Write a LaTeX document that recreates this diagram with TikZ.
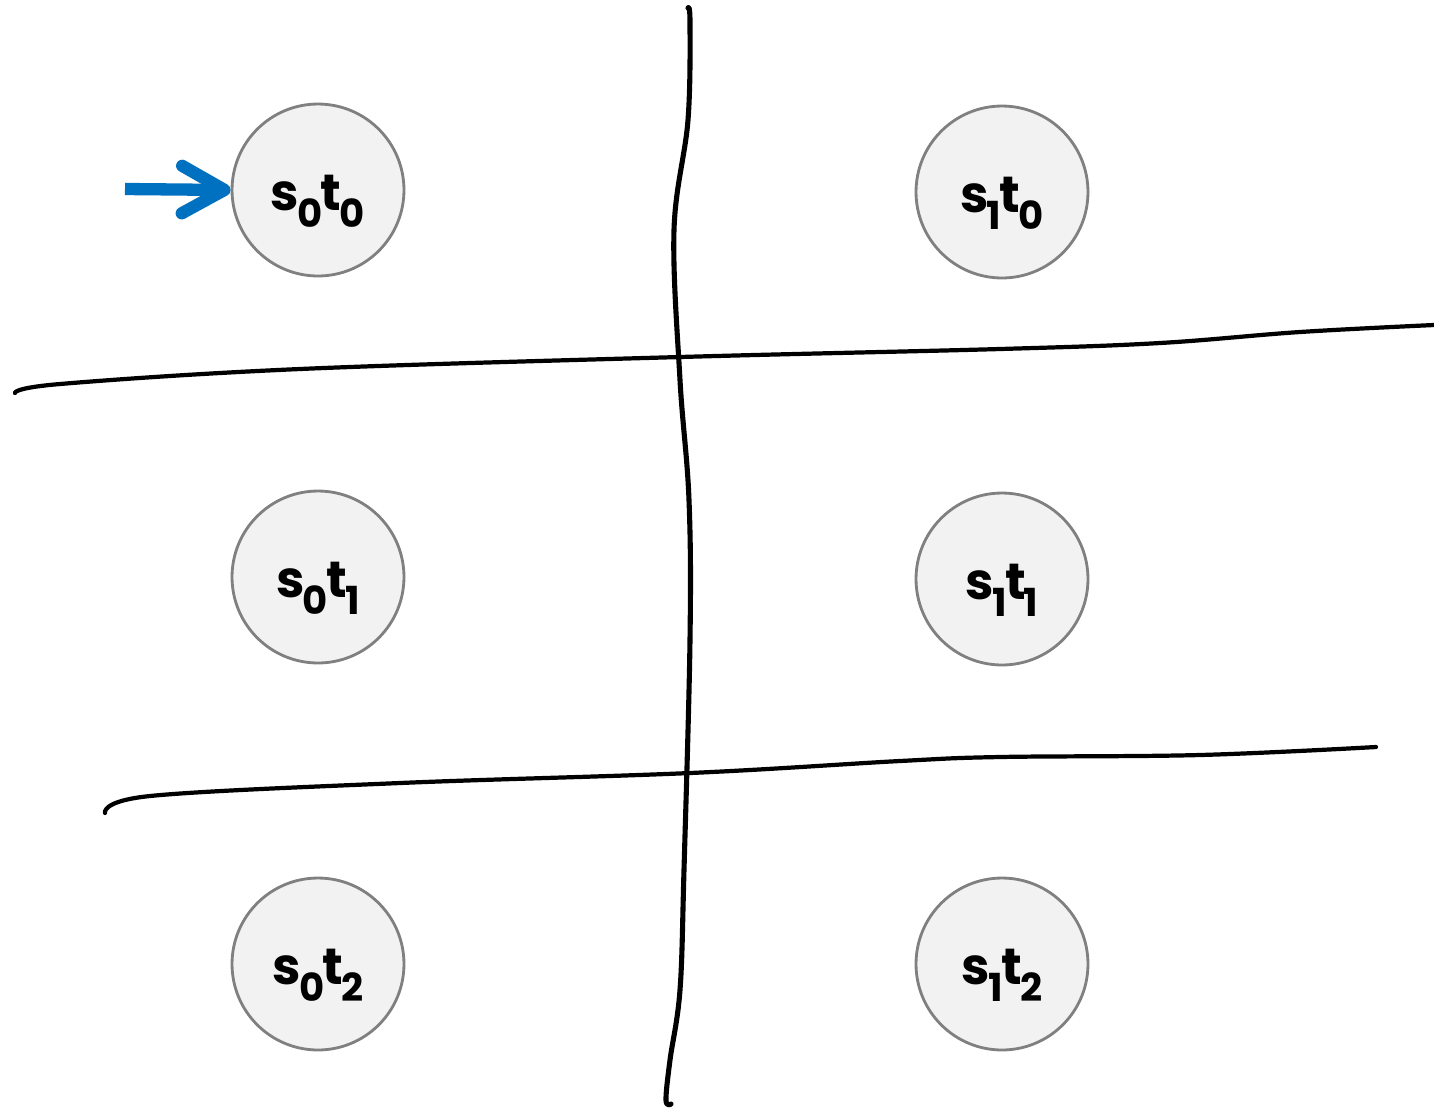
\documentclass[tikz,border=0pt]{standalone}
\usepackage{xcolor}
\usepackage{fontspec}
\usepackage{tikz}
\usetikzlibrary{arrows.meta}
\setmainfont{Poppins}
\definecolor{initblue}{RGB}{0,112,192}
\definecolor{stategray}{RGB}{128,128,128}
\definecolor{statefill}{RGB}{242,242,242}
\newcommand{\subdigit}[1]{\lower0.35cm\hbox{\fontsize{22}{22}\selectfont #1}}
\newcommand{\pairlabel}[2]{s\kern-1pt\subdigit{#1}\kern-1pt t\kern-1pt\subdigit{#2}}

\begin{document}
\begin{tikzpicture}[x=0.02cm,y=-0.02cm,
    state/.style={draw=stategray,line width=1.6pt,circle,fill=statefill,minimum size=3.44cm,inner sep=0pt,text height=1.0cm,text depth=0.2cm,font=\fontsize{29}{29}\selectfont\bfseries},
    cut/.style={line width=2.9pt,line cap=round,line join=round}]
    \useasboundingbox (0,0) rectangle (1434,1107);
    % hand drawn separators
    \draw[cut] plot[smooth,tension=0.6] coordinates {(688,8) (690,22) (688,120) (674,230) (680,380) (689,500) (690,640) (684,870) (680,990) (670,1060) (666,1100) (671,1104)};
    \draw[cut,line width=2.4pt] plot[smooth,tension=0.6] coordinates {(15,393) (60,384) (300,369) (680,357) (1000,349) (1160,343) (1300,332) (1434,325)};
    \draw[cut,line width=2.4pt] plot[smooth,tension=0.6] coordinates {(105,813) (150,796) (400,783) (690,773) (900,761) (1000,757) (1200,755) (1376,747)};
    % states
    \node[state] (s0t0) at (318,190) {\pairlabel{0}{0}};
    \node[state] (s1t0) at (1002,192) {\pairlabel{1}{0}};
    \node[state] (s0t1) at (318,577) {\pairlabel{0}{1}};
    \node[state] (s1t1) at (1002,579) {\pairlabel{1}{1}};
    \node[state] (s0t2) at (318,964) {\pairlabel{0}{2}};
    \node[state] (s1t2) at (1002,964) {\pairlabel{1}{2}};
    % initial state
    \coordinate (init) at (125,189);
    \draw[initblue,line width=7pt,-{Straight Barb[length=0.85cm,width=0.95cm,round]}] (init) -- (s0t0.west);
\end{tikzpicture}
\end{document}
